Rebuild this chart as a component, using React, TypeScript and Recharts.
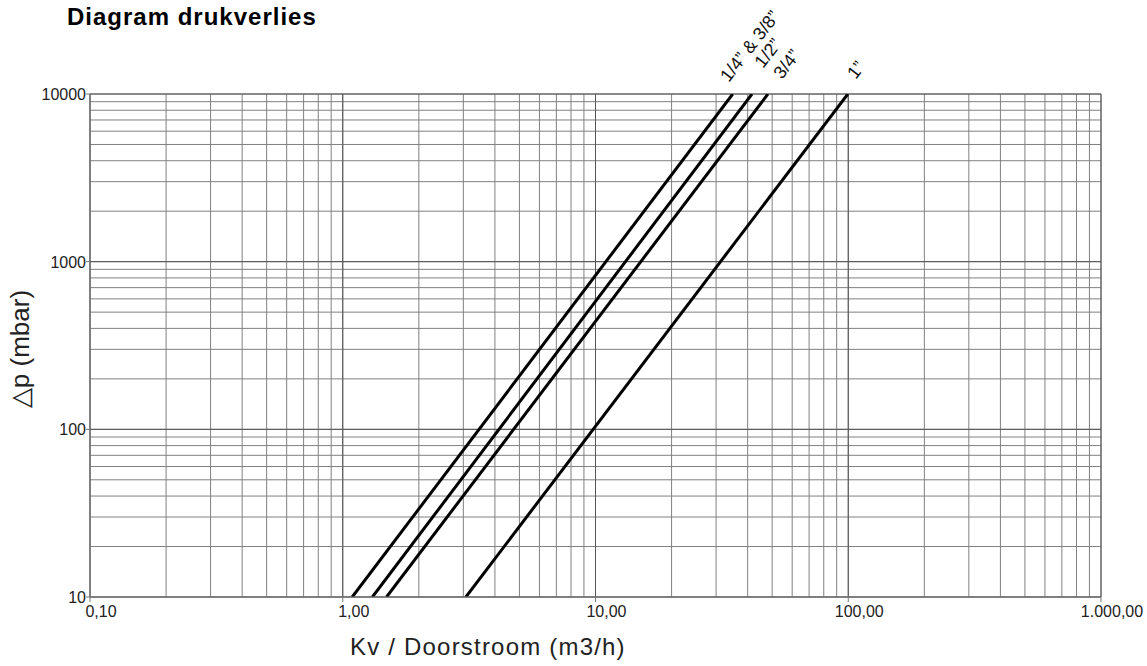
import React from 'react';
import { LineChart, Line, XAxis, YAxis, CartesianGrid, ReferenceLine } from 'recharts';

// ---- data ----
const xTicks = [0.1, 0.2, 0.3, 0.4, 0.5, 0.6, 0.7, 0.8, 0.9, 1, 2, 3, 4, 5, 6, 7, 8, 9, 10, 20, 30, 40, 50, 60, 70, 80, 90, 100, 200, 300, 400, 500, 600, 700, 800, 900, 1000];
const xMajor = [0.1, 1, 10, 100, 1000];
const xMajorLabels = ['0,10', '1,00', '10,00', '100,00', '1.000,00'];
const yTicks = [10, 20, 30, 40, 50, 60, 70, 80, 90, 100, 200, 300, 400, 500, 600, 700, 800, 900, 1000, 2000, 3000, 4000, 5000, 6000, 7000, 8000, 9000, 10000];
const yMajor = [10, 100, 1000, 10000];
const yMajorLabels = ['10', '100', '1000', '10000'];

const seriesNames = ['1/4\u201D & 3/8\u201D', '1/2\u201D', '3/4\u201D', '1\u201D'];
const s1 = [{ x: 1.09, y: 10 }, { x: 34.9, y: 10000 }];
const s2 = [{ x: 1.31, y: 10 }, { x: 41.6, y: 10000 }];
const s3 = [{ x: 1.49, y: 10 }, { x: 48.1, y: 10000 }];
const s4 = [{ x: 3.07, y: 10 }, { x: 99.6, y: 10000 }];

const FONT = '"Liberation Sans", Arial, Helvetica, sans-serif';

const XTick = (props: any) => {
  const { x, y, payload } = props;
  const v = payload.value;
  const i = xMajor.findIndex((m) => Math.abs(m - v) < 1e-9);
  if (i < 0) return null;
  return (
    <g>
      <line x1={x} y1={y} x2={x} y2={y + 5} stroke="#777" strokeWidth={1} />
      <text x={x + 11} y={y + 20} textAnchor="middle" fontSize={16} fill="#222" fontFamily={FONT}>
        {xMajorLabels[i]}
      </text>
    </g>
  );
};

const YTick = (props: any) => {
  const { x, y, payload } = props;
  const v = payload.value;
  const i = yMajor.findIndex((m) => Math.abs(m - v) < 1e-9);
  if (i < 0) return null;
  return (
    <g>
      <line x1={x - 4} y1={y} x2={x} y2={y} stroke="#777" strokeWidth={1} />
      <text x={x - 4} y={y + 6} textAnchor="end" fontSize={16} fill="#222" fontFamily={FONT}>
        {yMajorLabels[i]}
      </text>
    </g>
  );
};

const makeLabel = (text: string, last: number, dx: number, dy: number) => (props: any) => {
  if (props.index !== last) return null;
  const tx = props.x + dx;
  const ty = props.y + dy;
  return (
    <text
      x={tx}
      y={ty}
      fontSize={18}
      fill="#111"
      fontFamily={FONT}
      transform={`rotate(-52, ${tx}, ${ty})`}
    >
      {text}
    </text>
  );
};

export default function App() {
  const lineProps = {
    dataKey: 'y',
    stroke: '#000',
    strokeWidth: 3,
    dot: false,
    activeDot: false,
    type: 'linear' as const,
    isAnimationActive: false,
  };
  return (
    <div style={{ position: 'absolute', left: 0, top: 0, width: 1147, height: 666, background: '#fff' }}>
      <LineChart width={1147} height={666} margin={{ top: 94, right: 46, bottom: 0, left: 0 }}>
        <CartesianGrid stroke="#808080" strokeWidth={1} />
        <XAxis
          dataKey="x"
          type="number"
          scale="log"
          domain={[0.1, 1000]}
          ticks={xTicks}
          interval={0}
          allowDataOverflow
          height={69}
          tickSize={0}
          tickMargin={0}
          tickLine={false}
          axisLine={{ stroke: '#777' }}
          tick={<XTick />}
        />
        <YAxis
          type="number"
          scale="log"
          domain={[10, 10000]}
          ticks={yTicks}
          interval={0}
          allowDataOverflow
          width={90}
          tickSize={0}
          tickMargin={0}
          tickLine={false}
          axisLine={{ stroke: '#777' }}
          tick={<YTick />}
        />
        {xMajor.map((v) => (
          <ReferenceLine key={'vx' + v} x={v} stroke="#555" strokeWidth={1} ifOverflow="extendDomain" />
        ))}
        {yMajor.map((v) => (
          <ReferenceLine key={'hy' + v} y={v} stroke="#555" strokeWidth={1} ifOverflow="extendDomain" />
        ))}
        <Line {...lineProps} data={s1} label={makeLabel(seriesNames[0], s1.length - 1, -4, -11)} />
        <Line {...lineProps} data={s2} label={makeLabel(seriesNames[1], s2.length - 1, 11, -25)} />
        <Line {...lineProps} data={s3} label={makeLabel(seriesNames[2], s3.length - 1, 14, -14)} />
        <Line {...lineProps} data={s4} label={makeLabel(seriesNames[3], s4.length - 1, 8, -14)} />
      </LineChart>
      <svg
        width={1147}
        height={666}
        style={{ position: 'absolute', left: 0, top: 0, pointerEvents: 'none' }}
      >
        <text x={67} y={25} fontSize={24} fontWeight="bold" letterSpacing={1} fill="#000" fontFamily={FONT}>
          Diagram drukverlies
        </text>
        <text x={350} y={655} fontSize={24} letterSpacing={1.2} fill="#222" fontFamily={FONT}>
          Kv / Doorstroom (m3/h)
        </text>
        <text
          x={29}
          y={349}
          fontSize={26}
          textAnchor="middle"
          fill="#222"
          fontFamily={FONT}
          transform="rotate(-90, 29, 349)"
        >
          {'\u25B3p (mbar)'}
        </text>
      </svg>
    </div>
  );
}
